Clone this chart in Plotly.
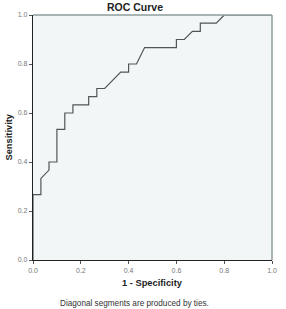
import plotly.graph_objects as go

# ROC curve data (1 - Specificity, Sensitivity)
fpr = [0.0, 0.0, 0.033, 0.033, 0.067, 0.067, 0.1, 0.1, 0.133, 0.133, 0.167, 0.167,
       0.233, 0.233, 0.267, 0.267, 0.3, 0.367, 0.4, 0.4, 0.433, 0.467, 0.6, 0.6,
       0.633, 0.667, 0.7, 0.7, 0.767, 0.8, 1.0]
tpr = [0.0, 0.267, 0.267, 0.333, 0.367, 0.4, 0.4, 0.533, 0.533, 0.6, 0.6, 0.633,
       0.633, 0.667, 0.667, 0.7, 0.7, 0.767, 0.767, 0.8, 0.8, 0.867, 0.867, 0.9,
       0.9, 0.933, 0.933, 0.967, 0.967, 1.0, 1.0]
tick_vals = [0.0, 0.2, 0.4, 0.6, 0.8, 1.0]
tick_text = ["0.0", "0.2", "0.4", "0.6", "0.8", "1.0"]

fig = go.Figure()
fig.add_trace(go.Scatter(x=fpr, y=tpr, mode="lines",
                         line=dict(color="#505656", width=1.2), hoverinfo="skip"))

font_family = "Liberation Sans, Arial, sans-serif"
axis_common = dict(range=[0, 1], tickvals=tick_vals, ticktext=tick_text,
                   showgrid=False, zeroline=False, showline=True,
                   linecolor="#222222", linewidth=1.3,
                   ticks="outside", ticklen=3, tickcolor="#555555", tickwidth=1,
                   tickfont=dict(size=7, color="#777777", family=font_family))

fig.update_layout(
    width=286, height=309,
    margin=dict(l=33, r=9, t=15, b=49, pad=0),
    paper_bgcolor="white", plot_bgcolor="#f3f6f6",
    showlegend=False,
    xaxis=dict(**axis_common),
    yaxis=dict(**axis_common),
    shapes=[
        dict(type="line", xref="paper", yref="paper", x0=0, x1=1, y0=1, y1=1,
             line=dict(color="#8e9c9c", width=1.5)),
        dict(type="line", xref="paper", yref="paper", x0=1, x1=1, y0=0, y1=1,
             line=dict(color="#8e9c9c", width=1.5)),
    ],
    annotations=[
        dict(text="<b>ROC Curve</b>", xref="paper", yref="paper", x=0.426, y=1,
             yshift=8, showarrow=False, xanchor="center", yanchor="middle",
             font=dict(size=10.5, color="#222222", family=font_family)),
        dict(text="<b>Sensitivity</b>", xref="paper", yref="paper", x=0, y=0.5,
             xshift=-25, showarrow=False, textangle=-90, xanchor="center", yanchor="middle",
             font=dict(size=9.3, color="#222222", family=font_family)),
        dict(text="<b>1 - Specificity</b>", xref="paper", yref="paper", x=0.5, y=0,
             yshift=-23, showarrow=False, xanchor="center", yanchor="middle",
             font=dict(size=9.3, color="#222222", family=font_family)),
        dict(text="Diagonal segments are produced by ties.", xref="paper", yref="paper",
             x=0.426, y=0, yshift=-43, showarrow=False, xanchor="center", yanchor="middle",
             font=dict(size=8.2, color="#333333", family=font_family)),
    ],
)

fig.write_html("out.html", config={"displayModeBar": False})
